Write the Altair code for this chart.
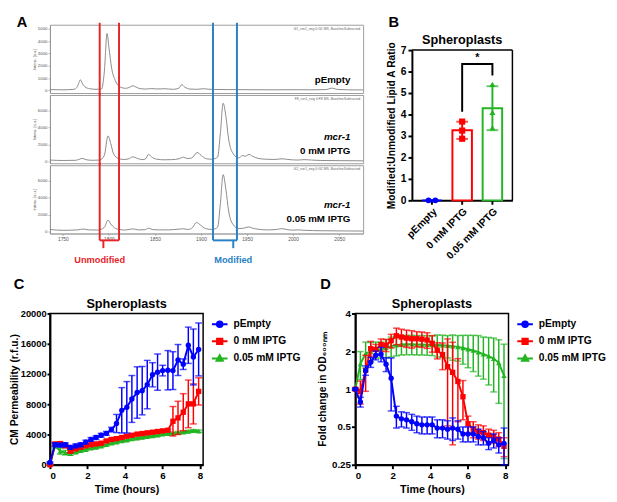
import altair as alt
import pandas as pd

FONT = "Liberation Sans"
BLUE, RED, GREEN = "#0000FF", "#FF0000", "#22B522"
SPEC_GREY, FRAME_GREY = "#7d7d7d", "#9c9c9c"
BOX_RED, BOX_BLUE = "#E8242B", "#2A80C4"

SERIES = ["pEmpty", "0 mM IPTG", "0.05 mM IPTG"]
SERIES_COLORS = [BLUE, RED, GREEN]
SERIES_SHAPES = ["circle", "square", "triangle-up"]
LEGEND_SYMBOLS = [
    "M-1,0L1,0M0.36,0A0.36,0.36,0,1,1,-0.36,0A0.36,0.36,0,1,1,0.36,0Z",
    "M-1,0L1,0M-0.34,-0.34L0.34,-0.34L0.34,0.34L-0.34,0.34Z",
    "M-1,0L1,0M0,-0.4L0.4,0.3L-0.4,0.3Z",
]

# ---------------- Panel A : MALDI spectra ----------------
MZ_DOMAIN = [1736, 2076]
MZ_TICKS = [1750, 1800, 1850, 1900, 1950, 2000, 2050]

spec1_mz = [1736, 1750, 1762, 1766, 1769, 1771, 1774, 1779, 1786, 1792,
            1795, 1798, 1800, 1803, 1807, 1812, 1818, 1822, 1826, 1829,
            1834, 1840, 1846, 1852, 1858, 1861, 1865, 1870, 1876, 1879,
            1882, 1888, 1896, 1902, 1908, 1915, 1930, 1950, 1980, 2000,
            2020, 2036, 2042, 2048, 2060, 2076]
spec1_int = [80, 60, 100, 350, 870, 600, 300, 150, 100, 120,
             1500, 4620, 3500, 1800, 800, 300, 180, 250, 390, 300,
             150, 120, 160, 130, 140, 150, 120, 100, 200, 470,
             300, 120, 100, 150, 110, 90, 80, 70, 60, 70,
             60, 80, 200, 90, 60, 50]

spec2_mz = [1736, 1750, 1764, 1768, 1771, 1775, 1782, 1790, 1795, 1799,
            1802, 1805, 1810, 1816, 1821, 1826, 1830, 1836, 1840, 1843,
            1846, 1852, 1860, 1868, 1876, 1881, 1885, 1890, 1896, 1900,
            1906, 1912, 1918, 1921, 1924, 1927, 1930, 1935, 1941, 1945,
            1948, 1952, 1956, 1962, 1970, 1980, 1988, 1994, 2005, 2012,
            2020, 2030, 2050, 2076]
spec2_int = [150, 100, 120, 250, 350, 200, 120, 150, 700, 3000,
             2100, 900, 350, 220, 280, 530, 380, 200, 300, 830,
             550, 250, 180, 200, 300, 490, 330, 400, 1050, 700,
             300, 250, 500, 3300, 6860, 5300, 2600, 900, 400, 680,
             600, 820, 600, 350, 250, 220, 300, 220, 150, 200,
             150, 100, 80, 60]

spec3_mz = [1736, 1750, 1766, 1772, 1778, 1788, 1795, 1799, 1802, 1806,
            1811, 1818, 1826, 1832, 1839, 1843, 1847, 1855, 1865, 1875,
            1881, 1886, 1891, 1895, 1899, 1905, 1912, 1918, 1921, 1924,
            1927, 1930, 1935, 1941, 1945, 1948, 1952, 1956, 1962, 1972,
            1982, 1988, 1994, 2000, 2006, 2012, 2030, 2050, 2076]
spec3_int = [250, 150, 200, 300, 200, 180, 500, 1350, 900, 450,
             250, 180, 320, 200, 220, 400, 250, 200, 200, 280,
             330, 250, 500, 1080, 800, 350, 250, 500, 3300, 6740,
             5000, 2400, 800, 350, 380, 450, 550, 400, 280, 200,
             250, 350, 220, 170, 200, 150, 100, 80, 60]

spec1_ydomain = [-200, 5330]
spec2_ydomain = [-230, 7830]
spec3_ydomain = [-230, 7850]
spec1_yticks = [0, 1000, 2000, 3000, 4000, 5000]
spec23_yticks = [0, 2000, 4000, 6000]
spec_headers = ["G1_run1_neg 0:G1 MS, BaselineSubtracted",
                "F8_run1_neg 0:F8 MS, BaselineSubtracted",
                "G2_run1_neg 0:G2 MS, BaselineSubtracted"]

box_names = ["Unmodified", "Modified"]
box_lo = [1790, 1913]
box_hi = [1811, 1939]
box_stem = [1794, 1935]
box_label_mz = [1790, 1935]
box_colors = [BOX_RED, BOX_BLUE]

# ---------------- Panel B : ratio bars ----------------
b_pempty = [0.0, 0.0]
b_0mm = [3.67, 3.25, 2.87]
b_005mm = [5.40, 4.10, 3.38]
sig_bracket_y = [4.13, 6.35, 6.35, 5.82]
sig_star_y = 6.62

# ---------------- Panels C and D : time courses ----------------
times = [0, 0.27, 0.55, 0.82, 1.09, 1.37, 1.64, 1.91, 2.19, 2.46,
         2.73, 3.01, 3.28, 3.55, 3.83, 4.10, 4.37, 4.65, 4.92, 5.19,
         5.47, 5.74, 6.01, 6.29, 6.56, 6.83, 7.11, 7.38, 7.65, 7.93]

c_blue = [300, 2650, 2600, 2650, 2300, 2500, 2650, 3000, 3350, 3600,
          3900, 4150, 4650, 5450, 7200, 7600, 8700, 9550, 9800, 10600,
          11900, 12250, 12450, 12500, 12450, 13850, 13300, 15800, 14250, 15250]
c_blue_sd = [100, 250, 250, 250, 250, 250, 250, 250, 250, 250,
             250, 250, 300, 1200, 3000, 3400, 3100, 3400, 3200, 3200,
             1600, 2400, 700, 2600, 2500, 2050, 700, 2400, 3700, 3500]
c_red = [0, 2750, 2800, 2500, 1800, 2100, 2300, 2500, 2650, 2750,
         2850, 3150, 3350, 3450, 3600, 3780, 3900, 4050, 4130, 4220,
         4300, 4400, 4480, 4570, 5750, 6200, 6950, 8050, 8050, 9700]
c_red_sd = [50, 200, 200, 200, 200, 150, 150, 150, 150, 150,
            150, 150, 150, 150, 150, 150, 150, 150, 150, 150,
            150, 150, 150, 150, 1950, 2200, 2450, 3150, 2650, 1800]
c_green = [0, 2500, 1800, 1600, 1450, 1650, 1850, 2000, 2200, 2300,
           2450, 2650, 2850, 3000, 3150, 3250, 3400, 3500, 3600, 3700,
           3800, 3900, 4050, 4100, 4150, 4250, 4300, 4400, 4500, 4450]
c_green_sd = [50, 300, 400, 300, 200, 150, 150, 150, 150, 150,
              150, 150, 150, 150, 150, 150, 150, 150, 150, 150,
              150, 150, 150, 150, 150, 150, 150, 150, 150, 150]

d_blue = [1.0, 0.79, 1.41, 1.64, 1.86, 1.9, 1.58, 1.22, 0.61, 0.58,
          0.57, 0.55, 0.53, 0.52, 0.52, 0.52, 0.49, 0.49, 0.48, 0.49,
          0.48, 0.44, 0.44, 0.44, 0.42, 0.41, 0.37, 0.39, 0.36, 0.37]
d_blue_sd = [0.02, 0.07, 0.12, 0.15, 0.15, 0.25, 0.2, 0.55, 0.12, 0.08,
             0.08, 0.08, 0.08, 0.08, 0.08, 0.08, 0.08, 0.08, 0.08, 0.1,
             0.08, 0.06, 0.06, 0.06, 0.06, 0.05, 0.04, 0.05, 0.05, 0.12]
d_red = [1.0, 0.96, 1.41, 2.1, 2.07, 2.26, 2.24, 2.43, 2.66, 2.6,
         2.55, 2.52, 2.52, 2.5, 2.46, 2.32, 2.04, 1.88, 1.51, 1.36,
         1.15, 0.87, 0.53, 0.48, 0.46, 0.45, 0.43, 0.42, 0.40, 0.35]
d_red_sd = [0.02, 0.2, 0.45, 0.3, 0.2, 0.25, 0.25, 0.3, 0.4, 0.4,
            0.4, 0.4, 0.35, 0.35, 0.35, 0.35, 0.3, 0.45, 1.0, 1.0,
            0.6, 0.3, 0.08, 0.07, 0.06, 0.06, 0.05, 0.05, 0.05, 0.06]
d_green = [1.0, 1.59, 1.92, 2.0, 2.07, 2.07, 2.13, 2.2, 2.24, 2.27,
           2.28, 2.28, 2.27, 2.27, 2.26, 2.25, 2.25, 2.24, 2.22, 2.2,
           2.17, 2.13, 2.08, 2.03, 1.97, 1.9, 1.83, 1.75, 1.62, 1.28]
d_green_sd = [0.02, 0.4, 0.45, 0.35, 0.3, 0.3, 0.35, 0.4, 0.4, 0.4,
              0.4, 0.4, 0.4, 0.4, 0.4, 0.4, 0.45, 0.45, 0.45, 0.5,
              0.5, 0.55, 0.6, 0.65, 0.7, 0.7, 0.75, 0.8, 0.85, 1.0]

ONE = pd.DataFrame({"k": [0]})


def letter(txt, x, y):
    # y is the alphabetic baseline of the panel letter
    return alt.Chart(ONE).mark_text(text=txt, font=FONT, fontSize=15, fontWeight="bold",
                                    align="left", baseline="alphabetic", color="black").encode(
        x=alt.value(x), y=alt.value(y))


# ---------------- build panel A ----------------
W_A, H_S = 321, 70
box_df = pd.DataFrame({"name": box_names, "lo": box_lo, "hi": box_hi, "stem": box_stem,
                       "labmz": box_label_mz, "col": box_colors})


def spectrum_panel(mz, inten, ydom, yticks, header, lines, first=False, last=False):
    xs = alt.Scale(domain=MZ_DOMAIN, nice=False, zero=False)
    if last:
        xax = alt.Axis(values=MZ_TICKS, format="d", labelFontSize=5, labelColor="#555", labelFont=FONT,
                       tickColor="#888", tickSize=2, tickWidth=0.6, domainColor="#888", domainWidth=0.6,
                       labelPadding=1, grid=False, title=None)
    else:
        xax = None
    ys = alt.Scale(domain=ydom, nice=False, zero=False)
    yax = alt.Axis(values=yticks, format="d", labelFontSize=4.5, labelColor="#555", labelFont=FONT,
                   tickColor="#888", tickSize=2, tickWidth=0.6, domainColor="#888", domainWidth=0.6,
                   labelPadding=1, grid=False, title="Intens. [a.u.]", titleFontSize=4,
                   titleFontWeight="normal", titleColor="#555", titleFont=FONT, titlePadding=1)

    def X(f):
        return alt.X(f, scale=xs, axis=xax)

    col = alt.Color("col:N", scale=None)
    layers = [
        alt.Chart(pd.DataFrame({"mz": mz, "inten": inten})).mark_line(
            color=SPEC_GREY, strokeWidth=0.9, interpolate="monotone").encode(
            x=X("mz:Q"), y=alt.Y("inten:Q", scale=ys, axis=yax)),
        alt.Chart(box_df).transform_fold(["lo", "hi"], as_=["edge", "edge_mz"]).mark_rule(
            strokeWidth=2).encode(x=X("edge_mz:Q"), y=alt.value(-2),
                                  y2=alt.value(77 if last else H_S + 2), color=col),
        alt.Chart(ONE).mark_text(text=header, font=FONT, fontSize=3.5, color="#666",
                                 align="right", baseline="top").encode(
            x=alt.value(W_A - 3), y=alt.value(2)),
    ]
    for txt, style, ypos in lines:
        layers.append(alt.Chart(ONE).mark_text(text=txt, font=FONT, fontSize=10, fontWeight="bold",
                                               fontStyle=style, align="right", baseline="middle",
                                               color="black").encode(
            x=alt.value(308), y=alt.value(ypos)))
    if last:
        layers += [
            alt.Chart(box_df).mark_rule(strokeWidth=2).encode(
                x=X("lo:Q"), x2="hi:Q", y=alt.value(77), color=col),
            alt.Chart(box_df).mark_rule(strokeWidth=2).encode(
                x=X("stem:Q"), y=alt.value(77), y2=alt.value(85), color=col),
            alt.Chart(box_df).mark_text(font=FONT, fontSize=9.5, fontWeight="bold",
                                        baseline="middle").encode(
                x=X("labmz:Q"), y=alt.value(97), text="name:N", color=col),
        ]
    if first:
        layers.append(letter("A", -34, 2))
        # transparent spacer that keeps the spectra at the reference's left offset
        layers.append(alt.Chart(ONE).mark_rule(opacity=0).encode(
            x=alt.value(-38.5), y=alt.value(0), y2=alt.value(1)))
    return alt.layer(*layers).properties(
        width=W_A, height=H_S, view=alt.ViewBackground(stroke=FRAME_GREY, strokeWidth=1))


s1 = spectrum_panel(spec1_mz, spec1_int, spec1_ydomain, spec1_yticks, spec_headers[0],
                    [("pEmpty", "normal", 57)], first=True)
s2 = spectrum_panel(spec2_mz, spec2_int, spec2_ydomain, spec23_yticks, spec_headers[1],
                    [("mcr-1", "italic", 43), ("0 mM IPTG", "normal", 57)])
s3 = spectrum_panel(spec3_mz, spec3_int, spec3_ydomain, spec23_yticks, spec_headers[2],
                    [("mcr-1", "italic", 41), ("0.05 mM IPTG", "normal", 55)], last=True)
panel_a = alt.vconcat(s1, s2, s3, spacing=2, bounds="flush")

# ---------------- build panel B ----------------
W_B, H_B, B_TOP = 103, 180, 26
b_points = pd.DataFrame({
    "grp": [SERIES[0]] * len(b_pempty) + [SERIES[1]] * len(b_0mm) + [SERIES[2]] * len(b_005mm),
    "val": b_pempty + b_0mm + b_005mm,
    "rep": list(range(len(b_pempty))) + list(range(len(b_0mm))) + list(range(len(b_005mm))),
})
b_stats = b_points.groupby("grp", sort=False)["val"].agg(["mean", "std"]).reset_index()
b_stats["lo"] = b_stats["mean"] - b_stats["std"]
b_stats["hi"] = b_stats["mean"] + b_stats["std"]

bxs = alt.Scale(domain=SERIES, paddingInner=0.355, paddingOuter=0.339)
bys = alt.Scale(domain=[0, 7], range=[H_B, B_TOP], nice=False, zero=True)
bxax = alt.Axis(labelAngle=-45, labelFontSize=10.5, labelFontWeight="bold", labelFont=FONT,
                labelColor="black", tickColor="black", tickSize=4, tickWidth=2, domainColor="black",
                domainWidth=2, labelPadding=2, title=None, grid=False)
byax = alt.Axis(values=list(range(8)), labelFontSize=10.5, labelFontWeight="bold", labelFont=FONT,
                labelColor="black", tickColor="black", tickSize=4, tickWidth=2, domainColor="black",
                domainWidth=2, labelPadding=2, grid=False, title="Modified:Unmodified Lipid A Ratio",
                titleFontSize=10.5, titleFont=FONT, titleFontWeight="bold", titleColor="black",
                titlePadding=4)
BX = alt.X("grp:N", scale=bxs, axis=bxax, sort=SERIES)


def BY(f):
    return alt.Y(f, scale=bys, axis=byax)


bcolor = alt.Color("grp:N", scale=alt.Scale(domain=SERIES, range=SERIES_COLORS), legend=None)
b_layers = [
    alt.Chart(b_stats).mark_bar(fill="white", strokeWidth=2).encode(
        x=BX, y=BY("mean:Q"),
        stroke=alt.Stroke("grp:N", scale=alt.Scale(domain=SERIES, range=SERIES_COLORS), legend=None)),
    alt.Chart(b_stats).mark_rule(strokeWidth=2).encode(x=BX, y=BY("lo:Q"), y2="hi:Q", color=bcolor),
    alt.Chart(b_stats).transform_fold(["lo", "hi"], as_=["k", "cap"]).mark_tick(
        orient="horizontal", size=12, thickness=2).encode(x=BX, y=BY("cap:Q"), color=bcolor),
]
for i in (1, 2):
    b_layers.append(alt.Chart(b_points).transform_filter(alt.datum.grp == SERIES[i]).mark_point(
        shape=SERIES_SHAPES[i], filled=True, size=40, opacity=1).encode(x=BX, y=BY("val:Q"), color=bcolor))
for rep, off in ((0, -3.5), (1, 3.5)):
    b_layers.append(alt.Chart(b_points).transform_filter(
        (alt.datum.grp == SERIES[0]) & (alt.datum.rep == rep)).mark_point(
        shape="circle", filled=True, size=36, opacity=1, xOffset=off).encode(
        x=BX, y=BY("val:Q"), color=bcolor))
sig_df = pd.DataFrame({"grp": [SERIES[1], SERIES[1], SERIES[2], SERIES[2]],
                       "y": sig_bracket_y, "o": [0, 1, 2, 3]})
b_layers += [
    alt.Chart(sig_df).mark_line(color="black", strokeWidth=2).encode(x=BX, y=BY("y:Q"), order="o:O"),
    alt.Chart(pd.DataFrame({"grp": [SERIES[1]], "y": [sig_star_y]})).mark_text(
        text="*", font=FONT, fontSize=11, fontWeight="bold", dx=15.5, baseline="middle",
        color="black").encode(x=BX, y=BY("y:Q")),
    alt.Chart(ONE).mark_rule(color="black", strokeWidth=1.5).encode(
        x=alt.value(0), x2=alt.value(W_B), y=alt.value(B_TOP)),
    alt.Chart(ONE).mark_rule(color="black", strokeWidth=1.5).encode(
        x=alt.value(W_B), y=alt.value(B_TOP), y2=alt.value(H_B)),
    alt.Chart(ONE).mark_text(text="Spheroplasts", font=FONT, fontSize=13, fontWeight="bold",
                             baseline="middle", color="black").encode(
        x=alt.value(W_B / 2), y=alt.value(16)),
    letter("B", -24, 2),
]
panel_b = alt.layer(*b_layers).properties(
    width=W_B, height=H_B, view=alt.ViewBackground(stroke="transparent"))

row1 = alt.hconcat(panel_a, panel_b, spacing=20)

# ---------------- build panels C and D ----------------
W_T, H_T = 157, 155


def axis_x():
    return alt.Axis(values=[0, 2, 4, 6, 8], format="d", labelFontSize=10, labelFontWeight="bold",
                    labelFont=FONT, labelColor="black", tickColor="black", tickSize=4, tickWidth=2,
                    domainColor="black", domainWidth=2, labelPadding=2, grid=False,
                    title="Time (hours)", titleFontSize=11, titleFont=FONT, titleFontWeight="bold",
                    titleColor="black", titlePadding=3)


def timecourse(vals, sds, yscale, yaxis, letter_txt, letter_x):
    xs = alt.Scale(domain=[0, 8.17], nice=False, zero=False)
    xax = axis_x()

    def X(f):
        return alt.X(f, scale=xs, axis=xax)

    def Y(f):
        return alt.Y(f, scale=yscale, axis=yaxis)

    layers = []
    for i in (2, 1, 0):
        df = pd.DataFrame({"t": times, "v": vals[i], "sd": sds[i]})
        df["lo"] = df["v"] - df["sd"]
        df["hi"] = df["v"] + df["sd"]
        c = SERIES_COLORS[i]
        base = alt.Chart(df)
        layers += [
            base.mark_rule(color=c, strokeWidth=1.5).encode(x=X("t:Q"), y=Y("lo:Q"), y2="hi:Q"),
            base.transform_fold(["lo", "hi"], as_=["k", "cap"]).mark_tick(
                color=c, orient="horizontal", size=7, thickness=1.5).encode(x=X("t:Q"), y=Y("cap:Q")),
            base.mark_line(color=c, strokeWidth=2).encode(x=X("t:Q"), y=Y("v:Q")),
            base.mark_point(color=c, shape=SERIES_SHAPES[i], filled=True, size=30, opacity=1).encode(
                x=X("t:Q"), y=Y("v:Q")),
        ]
    leg = alt.Legend(title=None, orient="right", offset=6, symbolSize=256, symbolStrokeWidth=2,
                     labelFontSize=10.5, labelFontWeight="bold", labelFont=FONT, labelColor="black",
                     labelOffset=5, rowPadding=1.5, padding=2)
    layers.append(alt.Chart(pd.DataFrame({"s": SERIES})).mark_point(
        filled=True, size=0, strokeWidth=2, opacity=1).encode(
        x=alt.value(0), y=alt.value(0),
        color=alt.Color("s:N", scale=alt.Scale(domain=SERIES, range=SERIES_COLORS), legend=leg),
        stroke=alt.Stroke("s:N", scale=alt.Scale(domain=SERIES, range=SERIES_COLORS), legend=leg),
        shape=alt.Shape("s:N", scale=alt.Scale(domain=SERIES, range=LEGEND_SYMBOLS), legend=leg)))
    layers.append(alt.Chart(ONE).mark_text(text="Spheroplasts", font=FONT, fontSize=13,
                                           fontWeight="bold", baseline="middle", color="black").encode(
        x=alt.value(W_T / 2), y=alt.value(-10)))
    layers.append(letter(letter_txt, letter_x, -25))
    return alt.layer(*layers).properties(
        width=W_T, height=H_T, view=alt.ViewBackground(stroke="black", strokeWidth=1.5))


c_scale = alt.Scale(domain=[0, 20000], nice=False, zero=True)
c_axis = alt.Axis(values=[0, 4000, 8000, 12000, 16000, 20000], format="d", labelFontSize=9.5,
                  labelFontWeight="bold", labelFont=FONT, labelColor="black", tickColor="black",
                  tickSize=3, tickWidth=2, domainColor="black", domainWidth=2, labelPadding=1,
                  grid=False, title="CM Permeability (r.f.u.)", titleFontSize=10.5, titleFont=FONT,
                  titleFontWeight="bold", titleColor="black", titlePadding=1)
d_scale = alt.Scale(type="log", base=2, domain=[0.25, 4], nice=False)
d_axis = alt.Axis(values=[0.25, 0.5, 1, 2, 4], format="~g", labelFontSize=10,
                  labelFontWeight="bold", labelFont=FONT, labelColor="black", tickColor="black",
                  tickSize=4, tickWidth=2, domainColor="black", domainWidth=2, labelPadding=1,
                  grid=False, title="Fold change in OD\u2086\u2080\u2080\u2099\u2098", titleFontSize=10.5,
                  titleFont=FONT, titleFontWeight="bold", titleColor="black", titlePadding=4)

panel_c = timecourse([c_blue, c_red, c_green], [c_blue_sd, c_red_sd, c_green_sd], c_scale, c_axis,
                     "C", -37)
panel_d = timecourse([d_blue, d_red, d_green], [d_blue_sd, d_red_sd, d_green_sd], d_scale, d_axis,
                     "D", -36)

row2 = alt.hconcat(panel_c, panel_d, spacing=156, bounds="flush").resolve_scale(
    color="independent", stroke="independent", shape="independent")

chart = alt.vconcat(row1, row2, spacing=12).resolve_scale(
    color="independent", stroke="independent", shape="independent").properties(
    padding=0, background="white")

chart.save("out.html", embed_options={"renderer": "svg", "actions": False})
